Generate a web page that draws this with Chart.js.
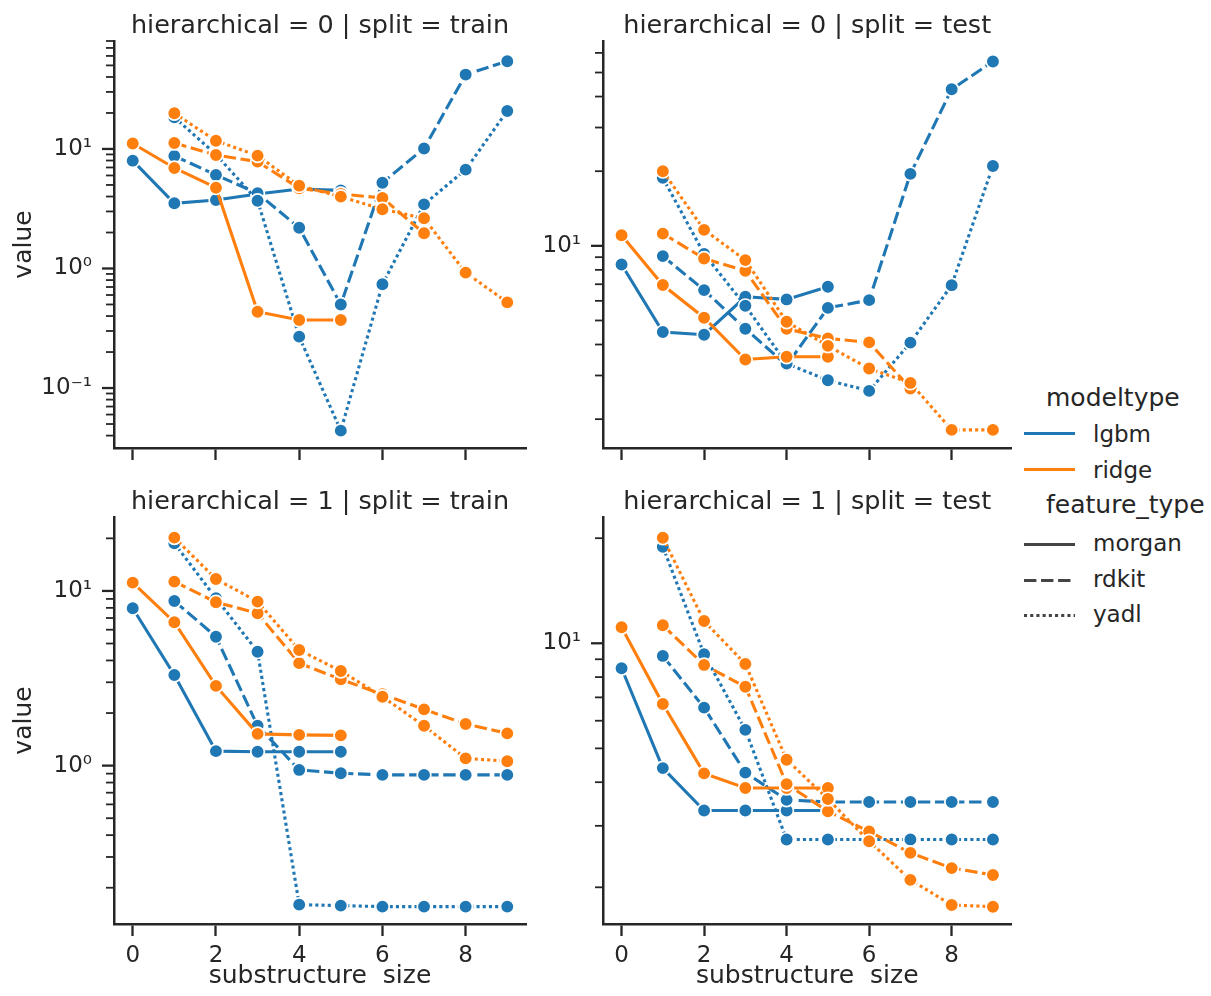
<!DOCTYPE html>
<html>
<head>
<meta charset="utf-8">
<script src="https://cdn.jsdelivr.net/npm/chart.js@4.4.1/dist/chart.umd.min.js"></script>
<style>
  body { margin: 0; background: #fff; width: 1211px; height: 996px; overflow: hidden; position: relative;
         font-family: 'DejaVu Sans', sans-serif; color: #262626; }
  canvas { position: absolute; }
  .lg { position: absolute; white-space: nowrap; line-height: 1; }
  .lg-line { position: absolute; }
</style>
</head>
<body>
<canvas id="tl" width="540" height="470" style="left:0;top:0"></canvas>
<canvas id="tr" width="480" height="470" style="left:540px;top:0"></canvas>
<canvas id="bl" width="540" height="526" style="left:0;top:470px"></canvas>
<canvas id="br" width="480" height="526" style="left:540px;top:470px"></canvas>

<div class="lg" style="left:1046px;top:385px;font-size:25px">modeltype</div>
<svg class="lg-line" style="left:1024px;top:429px" width="52" height="9"><line x1="0" y1="4.5" x2="51" y2="4.5" stroke="#1f77b4" stroke-width="3.1"/></svg>
<div class="lg" style="left:1093px;top:423px;font-size:23px">lgbm</div>
<svg class="lg-line" style="left:1024px;top:465px" width="52" height="9"><line x1="0" y1="4.5" x2="51" y2="4.5" stroke="#ff7f0e" stroke-width="3.1"/></svg>
<div class="lg" style="left:1093px;top:459px;font-size:23px">ridge</div>
<div class="lg" style="left:1046px;top:492px;font-size:25px">feature_type</div>
<svg class="lg-line" style="left:1024px;top:540px" width="52" height="9"><line x1="0" y1="4.5" x2="51" y2="4.5" stroke="#444" stroke-width="3.1"/></svg>
<div class="lg" style="left:1093px;top:532px;font-size:23px">morgan</div>
<svg class="lg-line" style="left:1024px;top:576px" width="52" height="9"><line x1="0" y1="4.5" x2="51" y2="4.5" stroke="#444" stroke-width="3.1" stroke-dasharray="12.4 4.65"/></svg>
<div class="lg" style="left:1093px;top:568px;font-size:23px">rdkit</div>
<svg class="lg-line" style="left:1024px;top:611px" width="52" height="9"><line x1="0" y1="4.5" x2="51" y2="4.5" stroke="#444" stroke-width="3.1" stroke-dasharray="3.1 3.1"/></svg>
<div class="lg" style="left:1093px;top:603px;font-size:23px">yadl</div>

<script>
// substructure size on the x axis
const sizes = [0, 1, 2, 3, 4, 5, 6, 7, 8, 9];
const xTicks = [0, 2, 4, 6, 8];

// hierarchical = 0 | split = train
const h0TrainLgbmMorgan = [7.98, 3.51, 3.74, 4.2, 4.63, 4.5, null, null, null, null];
const h0TrainLgbmRdkit = [null, 8.74, 6.06, 4.26, 2.19, 0.50, 5.22, 10.1, 41.9, 54.2];
const h0TrainLgbmYadl = [null, 18.4, 9.0, 3.69, 0.269, 0.044, 0.738, 3.44, 6.71, 20.8];
const h0TrainRidgeMorgan = [11.1, 6.93, 4.74, 0.435, 0.371, 0.371, null, null, null, null];
const h0TrainRidgeRdkit = [null, 11.2, 8.9, 7.83, 4.69, 4.2, 3.89, 1.97, null, null];
const h0TrainRidgeYadl = [null, 19.9, 11.7, 8.79, 4.93, 3.99, 3.13, 2.63, 0.923, 0.521];

// hierarchical = 0 | split = test
const h0TestLgbmMorgan = [8.41, 4.49, 4.38, 6.23, 6.08, 6.84, null, null, null, null];
const h0TestLgbmRdkit = [null, 9.09, 6.63, 4.63, 3.30, 5.62, 6.04, 19.5, 42.8, 55.4];
const h0TestLgbmYadl = [null, 18.8, 9.28, 5.73, 3.35, 2.87, 2.60, 4.07, 6.94, 21.0];
const h0TestRidgeMorgan = [11.04, 6.95, 5.13, 3.48, 3.57, 3.57, null, null, null, null];
const h0TestRidgeRdkit = [null, 11.2, 8.89, 7.93, 4.63, 4.23, 4.08, 2.66, null, null];
const h0TestRidgeYadl = [null, 20.0, 11.6, 8.76, 4.94, 3.95, 3.20, 2.80, 1.81, 1.81];

// hierarchical = 1 | split = train
const h1TrainLgbmMorgan = [7.96, 3.30, 1.21, 1.20, 1.20, 1.20, null, null, null, null];
const h1TrainLgbmRdkit = [null, 8.76, 5.47, 1.69, 0.945, 0.905, 0.885, 0.885, 0.885, 0.885];
const h1TrainLgbmYadl = [null, 18.75, 9.08, 4.49, 0.160, 0.158, 0.156, 0.156, 0.156, 0.156];
const h1TrainRidgeMorgan = [11.16, 6.62, 2.86, 1.52, 1.50, 1.49, null, null, null, null];
const h1TrainRidgeRdkit = [null, 11.3, 8.62, 7.45, 3.86, 3.12, 2.56, 2.10, 1.73, 1.53];
const h1TrainRidgeYadl = [null, 20.2, 11.7, 8.69, 4.59, 3.48, 2.48, 1.69, 1.10, 1.06];

// hierarchical = 1 | split = test
const h1TestLgbmMorgan = [8.48, 4.39, 3.32, 3.32, 3.32, 3.32, null, null, null, null];
const h1TestLgbmRdkit = [null, 9.20, 6.54, 4.26, 3.56, 3.51, 3.51, 3.51, 3.51, 3.51];
const h1TestLgbmYadl = [null, 18.9, 9.30, 5.65, 2.74, 2.74, 2.74, 2.74, 2.74, 2.74];
const h1TestRidgeMorgan = [11.11, 6.70, 4.24, 3.85, 3.85, 3.85, null, null, null, null];
const h1TestRidgeRdkit = [null, 11.26, 8.67, 7.51, 3.95, 3.30, 2.89, 2.51, 2.27, 2.17];
const h1TestRidgeYadl = [null, 20.05, 11.58, 8.72, 4.64, 3.58, 2.71, 2.10, 1.78, 1.76];

// y axis limits
const h0TrainYRange = [0.0315, 80];
const h0TestYRange = [1.53, 67];
const h1TrainYRange = [0.124, 26.5];
const h1TestYRange = [1.57, 23];

const ink = '#262626';
const colors = { lgbm: '#1f77b4', ridge: '#ff7f0e' };
const dashes = { morgan: [], rdkit: [12.4, 4.65], yadl: [3.1, 3.1] };

Chart.defaults.font.family = "'DejaVu Sans', sans-serif";
Chart.defaults.color = ink;

const sup = { '-': '\u207B', '0': '\u2070', '1': '\u00B9', '2': '\u00B2', '3': '\u00B3',
              '4': '\u2074', '5': '\u2075', '6': '\u2076', '7': '\u2077', '8': '\u2078', '9': '\u2079' };
function decadeLabel(v) {
    const k = String(Math.round(Math.log10(v)));
    return '10' + k.split('').map(c => sup[c]).join('');
}

// matplotlib-like log ticks: 1..9 x 10^k inside the range
function logTicks(min, max) {
    const out = [];
    for (let k = Math.floor(Math.log10(min)); k <= Math.ceil(Math.log10(max)); k++) {
        for (let m = 1; m <= 9; m++) {
            const v = m * Math.pow(10, k);
            if (v >= min && v <= max) out.push({ value: v, major: m === 1 });
        }
    }
    return out;
}

// major / minor tick marks on the log axis
const yTickMarks = {
    id: 'yTickMarks',
    afterDraw(chart) {
        const s = chart.scales.y, ctx = chart.ctx, left = chart.chartArea.left;
        ctx.save();
        ctx.strokeStyle = ink;
        s.ticks.forEach(t => {
            const py = s.getPixelForValue(t.value);
            ctx.lineWidth = t.major ? 2.3 : 1.8;
            ctx.beginPath();
            ctx.moveTo(left - (t.major ? 12 : 8), py);
            ctx.lineTo(left, py);
            ctx.stroke();
        });
        ctx.restore();
    }
};

function series(model, feature, values) {
    return {
        label: model + ' ' + feature,
        data: sizes.map((x, i) => ({ x: x, y: values[i] })).filter(p => p.y !== null),
        borderColor: colors[model],
        backgroundColor: colors[model],
        borderWidth: 3.1,
        borderDash: dashes[feature],
        pointRadius: 6.8,
        pointHoverRadius: 6.8,
        pointBorderWidth: 1.7,
        pointBorderColor: '#fff',
        pointBackgroundColor: colors[model],
        tension: 0,
        fill: false
    };
}

function makePanel(id, title, yRange, vals, opt) {
    const list = [
        series('lgbm', 'morgan', vals[0]),
        series('lgbm', 'rdkit', vals[1]),
        series('lgbm', 'yadl', vals[2]),
        series('ridge', 'morgan', vals[3]),
        series('ridge', 'rdkit', vals[4]),
        series('ridge', 'yadl', vals[5])
    ].reverse(); // chart.js paints the first dataset on top

    new Chart(document.getElementById(id), {
        type: 'line',
        data: { datasets: list },
        plugins: [yTickMarks],
        options: {
            responsive: false,
            animation: false,
            events: [],
            layout: { padding: { left: 0, right: opt.padR, top: 0, bottom: 0 } },
            plugins: {
                legend: { display: false },
                tooltip: { enabled: false },
                title: { display: true, fullSize: false, text: title, color: ink,
                         font: { size: 25.5, weight: 'normal', lineHeight: 1 }, padding: opt.titlePad }
            },
            scales: {
                x: {
                    type: 'linear', min: -0.45, max: 9.45,
                    afterBuildTicks: s => { s.ticks = xTicks.map(v => ({ value: v })); },
                    afterFit: s => { s.height = opt.xH; },
                    grid: { display: true, drawOnChartArea: false, drawTicks: true,
                            tickLength: 12, tickWidth: 2.3, tickColor: ink },
                    border: { display: true, color: ink, width: 2.5 },
                    ticks: { display: opt.bottom, padding: 6.5, font: { size: 23 }, color: ink,
                             maxRotation: 0, autoSkip: false },
                    title: { display: opt.bottom, text: 'substructure  size', color: ink,
                             font: { size: 25 }, padding: { top: 0, bottom: 5 } }
                },
                y: {
                    type: 'logarithmic', min: yRange[0], max: yRange[1],
                    afterBuildTicks: s => { s.ticks = logTicks(yRange[0], yRange[1]); },
                    afterFit: s => { s.width = opt.axisW; },
                    // invisible tick marks only reserve room; visible ones come from yTickMarks
                    grid: { display: true, drawOnChartArea: false, drawTicks: true,
                            tickLength: 22, tickColor: 'rgba(0,0,0,0)' },
                    border: { display: true, color: ink, width: 2.5 },
                    ticks: { autoSkip: false, padding: 0, font: { size: 23 }, color: ink,
                             callback: (v, i, t) => t[i].major ? decadeLabel(v) : '' },
                    title: { display: opt.yTitle, text: 'value', color: ink,
                             font: { size: 25 }, padding: { top: 9, bottom: 0 } }
                }
            }
        }
    });
}

makePanel('tl', 'hierarchical = 0 | split = train', h0TrainYRange,
    [h0TrainLgbmMorgan, h0TrainLgbmRdkit, h0TrainLgbmYadl, h0TrainRidgeMorgan, h0TrainRidgeRdkit, h0TrainRidgeYadl],
    { padR: 14, axisW: 114, xH: 22, titlePad: { top: 14, bottom: 1.5 }, bottom: false, yTitle: true });
makePanel('tr', 'hierarchical = 0 | split = test', h0TestYRange,
    [h0TestLgbmMorgan, h0TestLgbmRdkit, h0TestLgbmYadl, h0TestRidgeMorgan, h0TestRidgeRdkit, h0TestRidgeYadl],
    { padR: 5, axisW: 63, xH: 22, titlePad: { top: 14, bottom: 1.5 }, bottom: false, yTitle: false });
makePanel('bl', 'hierarchical = 1 | split = train', h1TrainYRange,
    [h1TrainLgbmMorgan, h1TrainLgbmRdkit, h1TrainLgbmYadl, h1TrainRidgeMorgan, h1TrainRidgeRdkit, h1TrainRidgeYadl],
    { padR: 14, axisW: 114, xH: 72, titlePad: { top: 20, bottom: 1.5 }, bottom: true, yTitle: true });
makePanel('br', 'hierarchical = 1 | split = test', h1TestYRange,
    [h1TestLgbmMorgan, h1TestLgbmRdkit, h1TestLgbmYadl, h1TestRidgeMorgan, h1TestRidgeRdkit, h1TestRidgeYadl],
    { padR: 5, axisW: 63, xH: 72, titlePad: { top: 20, bottom: 1.5 }, bottom: true, yTitle: false });
</script>
</body>
</html>
